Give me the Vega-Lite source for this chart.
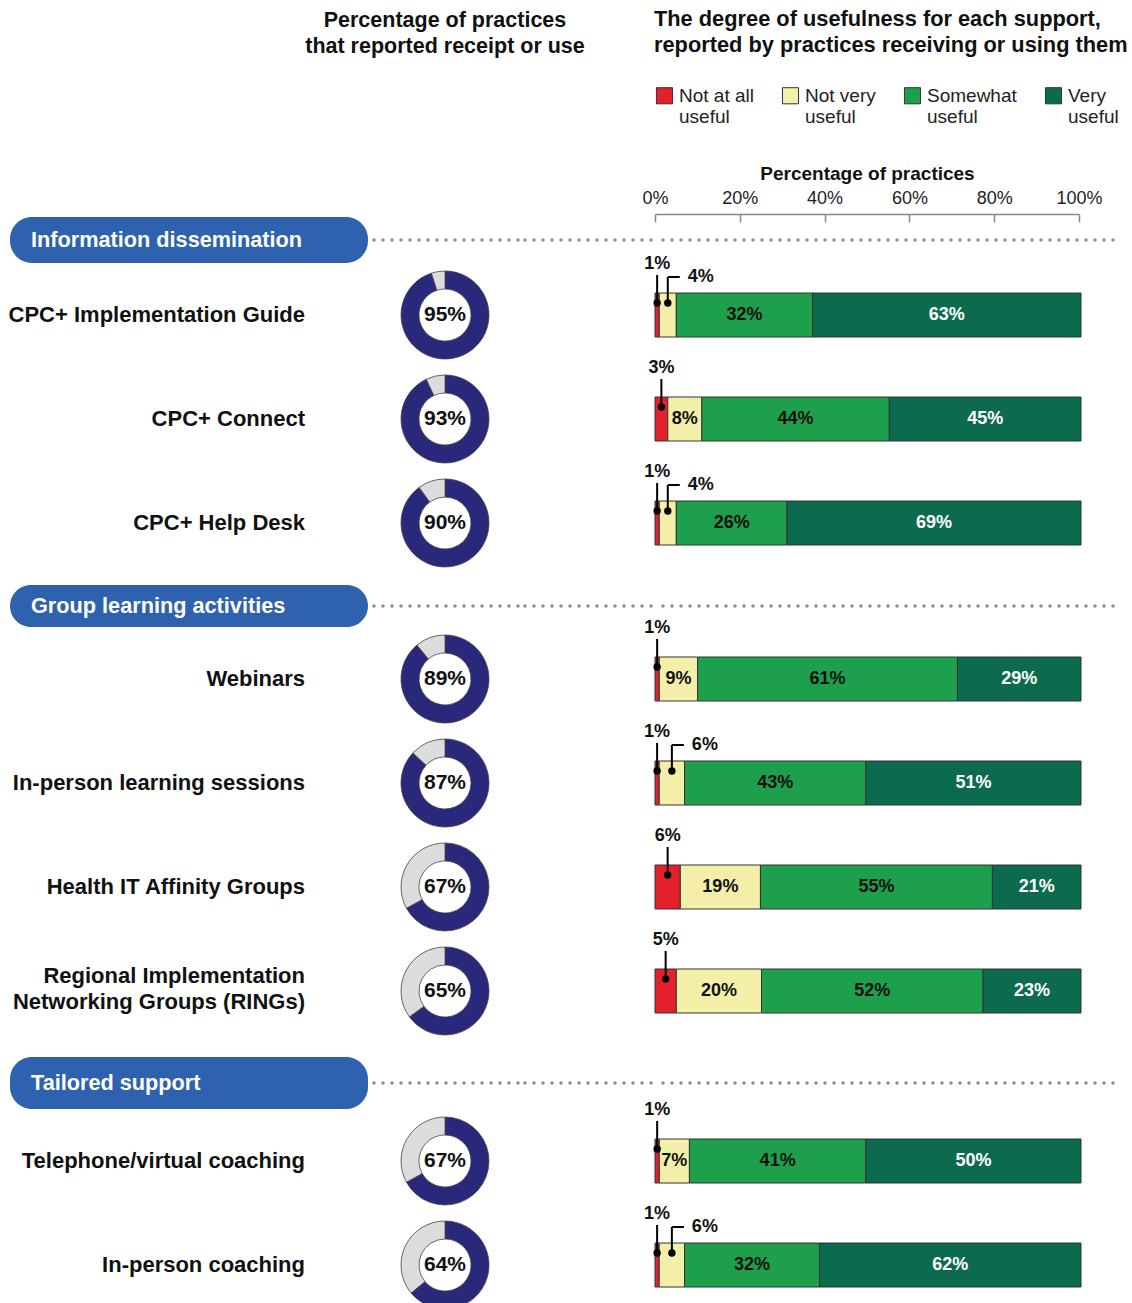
{
  "$schema": "https://vega.github.io/schema/vega-lite/v6.json",
  "background": "white",
  "padding": {"left": 8, "top": 9, "right": 10, "bottom": 0},
  "bounds": "flush",
  "align": "each",
  "spacing": 0,
  "columns": 4,
  "config": {
    "font": "Liberation Sans",
    "view": {"stroke": null},
    "title": {"fontSize": 21.5, "fontWeight": "bold", "color": "#111111", "lineHeight": 26}
  },
  "resolve": {"scale": {"color": "independent"}, "legend": {"color": "independent"}},
  "datasets": {
    "blank": [{"note": ""}],
    "sections": [
      {"section": "Information dissemination"},
      {"section": "Group learning activities"},
      {"section": "Tailored support"}
    ],
    "receipt": [
      {"section": "Information dissemination", "item": "CPC+ Implementation Guide", "part": "Yes", "from": 0, "to": 95},
      {"section": "Information dissemination", "item": "CPC+ Implementation Guide", "part": "No", "from": 95, "to": 100},
      {"section": "Information dissemination", "item": "CPC+ Connect", "part": "Yes", "from": 0, "to": 93},
      {"section": "Information dissemination", "item": "CPC+ Connect", "part": "No", "from": 93, "to": 100},
      {"section": "Information dissemination", "item": "CPC+ Help Desk", "part": "Yes", "from": 0, "to": 90},
      {"section": "Information dissemination", "item": "CPC+ Help Desk", "part": "No", "from": 90, "to": 100},
      {"section": "Group learning activities", "item": "Webinars", "part": "Yes", "from": 0, "to": 89},
      {"section": "Group learning activities", "item": "Webinars", "part": "No", "from": 89, "to": 100},
      {"section": "Group learning activities", "item": "In-person learning sessions", "part": "Yes", "from": 0, "to": 87},
      {"section": "Group learning activities", "item": "In-person learning sessions", "part": "No", "from": 87, "to": 100},
      {"section": "Group learning activities", "item": "Health IT Affinity Groups", "part": "Yes", "from": 0, "to": 67},
      {"section": "Group learning activities", "item": "Health IT Affinity Groups", "part": "No", "from": 67, "to": 100},
      {"section": "Group learning activities", "item": "Regional Implementation\nNetworking Groups (RINGs)", "part": "Yes", "from": 0, "to": 65},
      {"section": "Group learning activities", "item": "Regional Implementation\nNetworking Groups (RINGs)", "part": "No", "from": 65, "to": 100},
      {"section": "Tailored support", "item": "Telephone/virtual coaching", "part": "Yes", "from": 0, "to": 67},
      {"section": "Tailored support", "item": "Telephone/virtual coaching", "part": "No", "from": 67, "to": 100},
      {"section": "Tailored support", "item": "In-person coaching", "part": "Yes", "from": 0, "to": 64},
      {"section": "Tailored support", "item": "In-person coaching", "part": "No", "from": 64, "to": 100}
    ],
    "useful": [
      {"section": "Information dissemination", "item": "CPC+ Implementation Guide", "level": "Not at all useful", "value": 1},
      {"section": "Information dissemination", "item": "CPC+ Implementation Guide", "level": "Not very useful", "value": 4},
      {"section": "Information dissemination", "item": "CPC+ Implementation Guide", "level": "Somewhat useful", "value": 32},
      {"section": "Information dissemination", "item": "CPC+ Implementation Guide", "level": "Very useful", "value": 63},
      {"section": "Information dissemination", "item": "CPC+ Connect", "level": "Not at all useful", "value": 3},
      {"section": "Information dissemination", "item": "CPC+ Connect", "level": "Not very useful", "value": 8},
      {"section": "Information dissemination", "item": "CPC+ Connect", "level": "Somewhat useful", "value": 44},
      {"section": "Information dissemination", "item": "CPC+ Connect", "level": "Very useful", "value": 45},
      {"section": "Information dissemination", "item": "CPC+ Help Desk", "level": "Not at all useful", "value": 1},
      {"section": "Information dissemination", "item": "CPC+ Help Desk", "level": "Not very useful", "value": 4},
      {"section": "Information dissemination", "item": "CPC+ Help Desk", "level": "Somewhat useful", "value": 26},
      {"section": "Information dissemination", "item": "CPC+ Help Desk", "level": "Very useful", "value": 69},
      {"section": "Group learning activities", "item": "Webinars", "level": "Not at all useful", "value": 1},
      {"section": "Group learning activities", "item": "Webinars", "level": "Not very useful", "value": 9},
      {"section": "Group learning activities", "item": "Webinars", "level": "Somewhat useful", "value": 61},
      {"section": "Group learning activities", "item": "Webinars", "level": "Very useful", "value": 29},
      {"section": "Group learning activities", "item": "In-person learning sessions", "level": "Not at all useful", "value": 1},
      {"section": "Group learning activities", "item": "In-person learning sessions", "level": "Not very useful", "value": 6},
      {"section": "Group learning activities", "item": "In-person learning sessions", "level": "Somewhat useful", "value": 43},
      {"section": "Group learning activities", "item": "In-person learning sessions", "level": "Very useful", "value": 51},
      {"section": "Group learning activities", "item": "Health IT Affinity Groups", "level": "Not at all useful", "value": 6},
      {"section": "Group learning activities", "item": "Health IT Affinity Groups", "level": "Not very useful", "value": 19},
      {"section": "Group learning activities", "item": "Health IT Affinity Groups", "level": "Somewhat useful", "value": 55},
      {"section": "Group learning activities", "item": "Health IT Affinity Groups", "level": "Very useful", "value": 21},
      {"section": "Group learning activities", "item": "Regional Implementation\nNetworking Groups (RINGs)", "level": "Not at all useful", "value": 5},
      {"section": "Group learning activities", "item": "Regional Implementation\nNetworking Groups (RINGs)", "level": "Not very useful", "value": 20},
      {"section": "Group learning activities", "item": "Regional Implementation\nNetworking Groups (RINGs)", "level": "Somewhat useful", "value": 52},
      {"section": "Group learning activities", "item": "Regional Implementation\nNetworking Groups (RINGs)", "level": "Very useful", "value": 23},
      {"section": "Tailored support", "item": "Telephone/virtual coaching", "level": "Not at all useful", "value": 1},
      {"section": "Tailored support", "item": "Telephone/virtual coaching", "level": "Not very useful", "value": 7},
      {"section": "Tailored support", "item": "Telephone/virtual coaching", "level": "Somewhat useful", "value": 41},
      {"section": "Tailored support", "item": "Telephone/virtual coaching", "level": "Very useful", "value": 50},
      {"section": "Tailored support", "item": "In-person coaching", "level": "Not at all useful", "value": 1},
      {"section": "Tailored support", "item": "In-person coaching", "level": "Not very useful", "value": 6},
      {"section": "Tailored support", "item": "In-person coaching", "level": "Somewhat useful", "value": 32},
      {"section": "Tailored support", "item": "In-person coaching", "level": "Very useful", "value": 62}
    ]
  },
  "concat": [
    {"width": 358, "height": 3, "data": {"name": "blank"}, "mark": "text", "encoding": {"text": {"field": "note"}}},
    {"width": 154, "height": 3,
     "title": {"text": ["Percentage of practices", "that reported receipt or use"], "anchor": "middle", "offset": 152},
     "data": {"name": "blank"}, "mark": "text", "encoding": {"text": {"field": "note"}}},
    {"width": 133, "height": 3, "data": {"name": "blank"}, "mark": "text", "encoding": {"text": {"field": "note"}}},
    {"width": 424, "height": 3,
     "title": {"text": ["The degree of usefulness for each support,", "reported by practices receiving or using them"], "anchor": "start", "offset": 29, "dx": 12, "fontSize": 21.8},
     "data": {"name": "useful"},
     "transform": [{"filter": "false"}],
     "mark": "bar",
     "encoding": {
       "x": {"field": "value", "type": "quantitative", "scale": {"domain": [0, 1], "nice": false},
             "axis": {"orient": "top", "values": [0, 0.2, 0.4, 0.6, 0.8, 1], "format": ".0%", "title": "Percentage of practices",
                      "titleFontSize": 19, "titleFontWeight": "bold", "titleColor": "#111111", "titlePadding": 6,
                      "labelFontSize": 18, "labelColor": "#222222", "labelPadding": 15, "labelFlush": false, "labelOverlap": false,
                      "tickSize": -8, "tickColor": "#888888", "tickWidth": 1.5, "domainColor": "#888888", "domainWidth": 1.5, "grid": false}},
       "color": {"field": "level", "type": "nominal",
                 "scale": {"domain": ["Not at all useful", "Not very useful", "Somewhat useful", "Very useful"], "range": ["#e3202c", "#f3efa9", "#1e9f4c", "#0c6b4f"]},
                 "legend": {"orient": "top", "direction": "horizontal", "title": null, "symbolType": "square", "symbolSize": 260,
                            "symbolStrokeColor": "#333333", "symbolStrokeWidth": 1, "symbolOpacity": 1, "labelFontSize": 19, "labelColor": "#222222",
                            "labelExpr": "[replace(datum.label, ' useful', ''), 'useful']", "labelOffset": 5, "columnPadding": 26,
                            "offset": 37, "labelLimit": 300}}
     }},

    {"width": 358, "height": 46, "data": {"name": "sections"}, "transform": [{"filter": "datum.section == 'Information dissemination'"}],
     "encoding": {"y": {"field": "section", "type": "nominal", "axis": null, "scale": {"type": "band", "paddingInner": 0, "paddingOuter": 0}}},
     "layer": [
       {"mark": {"type": "bar", "size": 44, "cornerRadius": 22, "color": "#2e62ae"}},
       {"mark": {"type": "text", "align": "left", "dx": 21, "color": "white", "fontSize": 21.7, "fontWeight": "bold"}, "encoding": {"x": {"value": 0}, "text": {"field": "section"}}}
     ]},
    {"width": 154, "height": 46, "data": {"name": "sections"}, "transform": [{"filter": "datum.section == 'Information dissemination'"}],
     "mark": {"type": "rule", "strokeDash": [0, 9], "strokeDashOffset": -4, "strokeCap": "round", "strokeWidth": 3.5, "color": "#8c8c8c"},
     "encoding": {"y": {"field": "section", "type": "nominal", "axis": null, "scale": {"type": "band", "paddingInner": 0, "paddingOuter": 0}}}},
    {"width": 133, "height": 46, "data": {"name": "sections"}, "transform": [{"filter": "datum.section == 'Information dissemination'"}],
     "mark": {"type": "rule", "strokeDash": [0, 9], "strokeDashOffset": -4, "strokeCap": "round", "strokeWidth": 3.5, "color": "#8c8c8c"},
     "encoding": {"y": {"field": "section", "type": "nominal", "axis": null, "scale": {"type": "band", "paddingInner": 0, "paddingOuter": 0}}}},
    {"width": 462, "height": 46, "data": {"name": "sections"}, "transform": [{"filter": "datum.section == 'Information dissemination'"}],
     "mark": {"type": "rule", "strokeDash": [0, 9], "strokeDashOffset": -4, "strokeCap": "round", "strokeWidth": 3.5, "color": "#8c8c8c"},
     "encoding": {"y": {"field": "section", "type": "nominal", "axis": null, "scale": {"type": "band", "paddingInner": 0, "paddingOuter": 0}}}},

    {"width": 358, "height": 312, "data": {"name": "receipt"},
     "transform": [{"filter": "datum.section == 'Information dissemination' && datum.part == 'Yes'"}],
     "encoding": {"y": {"field": "item", "type": "nominal", "sort": null, "axis": null, "scale": {"type": "band", "paddingInner": 0, "paddingOuter": 0}},
                  "x": {"value": "width"}, "text": {"field": "item"}},
     "layer": [
       {"transform": [{"filter": "indexof(datum.item, '\\n') < 0"}],
        "mark": {"type": "text", "align": "right", "dx": -63, "baseline": "middle", "fontSize": 22, "fontWeight": "bold", "color": "#111111"}},
       {"transform": [{"filter": "indexof(datum.item, '\\n') >= 0"}],
        "mark": {"type": "text", "align": "right", "dx": -63, "dy": -1, "baseline": "line-bottom", "fontSize": 22, "fontWeight": "bold", "lineBreak": "\n", "lineHeight": 26, "color": "#111111"}}
     ]},
    {"width": 154, "height": 312, "data": {"name": "receipt"},
     "transform": [{"filter": "datum.section == 'Information dissemination'"}],
     "encoding": {"y": {"field": "item", "type": "nominal", "sort": null, "axis": null, "scale": {"type": "band", "paddingInner": 0, "paddingOuter": 0}}},
     "layer": [
       {"mark": {"type": "arc", "innerRadius": 26, "outerRadius": 44, "stroke": "#444444", "strokeWidth": 0.8},
        "encoding": {"theta": {"field": "from", "type": "quantitative", "stack": null, "scale": {"domain": [0, 100], "range": [0, 6.283185307179586]}},
                     "theta2": {"field": "to"},
                     "color": {"condition": {"test": "datum.part == 'Yes'", "value": "#29287b"}, "value": "#dcdcdc"}}},
       {"transform": [{"filter": "datum.part == 'Yes'"}, {"calculate": "datum.to + '%'", "as": "lbl"}],
        "mark": {"type": "text", "fontSize": 21, "fontWeight": "bold", "color": "#111111"},
        "encoding": {"text": {"field": "lbl"}}}
     ]},
    {"width": 133, "height": 312, "data": {"name": "blank"}, "mark": "text", "encoding": {"text": {"field": "note"}}},
    {"width": 426, "height": 312, "data": {"name": "useful"},
     "transform": [
       {"filter": "datum.section == 'Information dissemination'"},
       {"stack": "value", "groupby": ["item"], "sort": [{"field": "level", "order": "ascending"}], "as": ["v0", "v1"], "offset": "normalize"},
       {"calculate": "(datum.v0 + datum.v1) / 2", "as": "mid"},
       {"calculate": "datum.value + '%'", "as": "lbl"}
     ],
     "encoding": {"y": {"field": "item", "type": "nominal", "sort": null, "axis": null, "scale": {"type": "band", "paddingInner": 0, "paddingOuter": 0}}},
     "layer": [
       {"mark": {"type": "bar", "size": 44, "stroke": "#333333", "strokeWidth": 1},
        "encoding": {"x": {"field": "v0", "type": "quantitative", "scale": {"domain": [0, 1], "nice": false}, "axis": null}, "x2": {"field": "v1"},
                     "color": {"field": "level", "type": "nominal", "legend": null,
                               "scale": {"domain": ["Not at all useful", "Not very useful", "Somewhat useful", "Very useful"], "range": ["#e3202c", "#f3efa9", "#1e9f4c", "#0c6b4f"]}}}},
       {"transform": [{"filter": "datum.value >= 7"}],
        "mark": {"type": "text", "fontSize": 18, "fontWeight": "bold"},
        "encoding": {"x": {"field": "mid", "type": "quantitative", "scale": {"domain": [0, 1], "nice": false}, "axis": null}, "text": {"field": "lbl"},
                     "color": {"condition": {"test": "datum.level == 'Very useful'", "value": "white"}, "value": "#111111"}}},
       {"transform": [{"filter": "datum.value < 7 && datum.level == 'Not at all useful'"}],
        "mark": {"type": "rule", "color": "black", "strokeWidth": 2, "yOffset": -40, "y2Offset": -12},
        "encoding": {"x": {"field": "mid", "type": "quantitative", "scale": {"domain": [0, 1], "nice": false}, "axis": null}, "y2": {"field": "item"}}},
       {"transform": [{"filter": "datum.value < 7 && datum.level == 'Not at all useful'"}],
        "mark": {"type": "text", "fontSize": 18, "fontWeight": "bold", "dy": -51, "color": "#111111"},
        "encoding": {"x": {"field": "mid", "type": "quantitative", "scale": {"domain": [0, 1], "nice": false}, "axis": null}, "text": {"field": "lbl"}}},
       {"transform": [{"filter": "datum.value < 7 && datum.level == 'Not very useful'"}],
        "mark": {"type": "rule", "color": "black", "strokeWidth": 2, "yOffset": -38, "y2Offset": -12},
        "encoding": {"x": {"field": "mid", "type": "quantitative", "scale": {"domain": [0, 1], "nice": false}, "axis": null}, "y2": {"field": "item"}}},
       {"transform": [{"filter": "datum.value < 7 && datum.level == 'Not very useful'"}],
        "mark": {"type": "rule", "color": "black", "strokeWidth": 2, "yOffset": -38, "x2Offset": 12},
        "encoding": {"x": {"field": "mid", "type": "quantitative", "scale": {"domain": [0, 1], "nice": false}, "axis": null}, "x2": {"field": "mid"}}},
       {"transform": [{"filter": "datum.value < 7 && datum.level == 'Not very useful'"}],
        "mark": {"type": "text", "fontSize": 18, "fontWeight": "bold", "align": "left", "dx": 20, "dy": -38, "color": "#111111"},
        "encoding": {"x": {"field": "mid", "type": "quantitative", "scale": {"domain": [0, 1], "nice": false}, "axis": null}, "text": {"field": "lbl"}}},
       {"transform": [{"filter": "datum.value < 7"}],
        "mark": {"type": "point", "filled": true, "size": 55, "color": "black", "opacity": 1, "yOffset": -12},
        "encoding": {"x": {"field": "mid", "type": "quantitative", "scale": {"domain": [0, 1], "nice": false}, "axis": null}}}
     ]},

    {"width": 358, "height": 52, "data": {"name": "sections"}, "transform": [{"filter": "datum.section == 'Group learning activities'"}],
     "encoding": {"y": {"field": "section", "type": "nominal", "axis": null, "scale": {"type": "band", "paddingInner": 0, "paddingOuter": 0.119, "align": 1}}},
     "layer": [
       {"mark": {"type": "bar", "size": 44, "cornerRadius": 22, "color": "#2e62ae"}},
       {"mark": {"type": "text", "align": "left", "dx": 21, "color": "white", "fontSize": 21.7, "fontWeight": "bold"}, "encoding": {"x": {"value": 0}, "text": {"field": "section"}}}
     ]},
    {"width": 154, "height": 52, "data": {"name": "sections"}, "transform": [{"filter": "datum.section == 'Group learning activities'"}],
     "mark": {"type": "rule", "strokeDash": [0, 9], "strokeDashOffset": -4, "strokeCap": "round", "strokeWidth": 3.5, "color": "#8c8c8c"},
     "encoding": {"y": {"field": "section", "type": "nominal", "axis": null, "scale": {"type": "band", "paddingInner": 0, "paddingOuter": 0.119, "align": 1}}}},
    {"width": 133, "height": 52, "data": {"name": "sections"}, "transform": [{"filter": "datum.section == 'Group learning activities'"}],
     "mark": {"type": "rule", "strokeDash": [0, 9], "strokeDashOffset": -4, "strokeCap": "round", "strokeWidth": 3.5, "color": "#8c8c8c"},
     "encoding": {"y": {"field": "section", "type": "nominal", "axis": null, "scale": {"type": "band", "paddingInner": 0, "paddingOuter": 0.119, "align": 1}}}},
    {"width": 462, "height": 52, "data": {"name": "sections"}, "transform": [{"filter": "datum.section == 'Group learning activities'"}],
     "mark": {"type": "rule", "strokeDash": [0, 9], "strokeDashOffset": -4, "strokeCap": "round", "strokeWidth": 3.5, "color": "#8c8c8c"},
     "encoding": {"y": {"field": "section", "type": "nominal", "axis": null, "scale": {"type": "band", "paddingInner": 0, "paddingOuter": 0.119, "align": 1}}}},

    {"width": 358, "height": 416, "data": {"name": "receipt"},
     "transform": [{"filter": "datum.section == 'Group learning activities' && datum.part == 'Yes'"}],
     "encoding": {"y": {"field": "item", "type": "nominal", "sort": null, "axis": null, "scale": {"type": "band", "paddingInner": 0, "paddingOuter": 0}},
                  "x": {"value": "width"}, "text": {"field": "item"}},
     "layer": [
       {"transform": [{"filter": "indexof(datum.item, '\\n') < 0"}],
        "mark": {"type": "text", "align": "right", "dx": -63, "baseline": "middle", "fontSize": 22, "fontWeight": "bold", "color": "#111111"}},
       {"transform": [{"filter": "indexof(datum.item, '\\n') >= 0"}],
        "mark": {"type": "text", "align": "right", "dx": -63, "dy": -1, "baseline": "line-bottom", "fontSize": 22, "fontWeight": "bold", "lineBreak": "\n", "lineHeight": 26, "color": "#111111"}}
     ]},
    {"width": 154, "height": 416, "data": {"name": "receipt"},
     "transform": [{"filter": "datum.section == 'Group learning activities'"}],
     "encoding": {"y": {"field": "item", "type": "nominal", "sort": null, "axis": null, "scale": {"type": "band", "paddingInner": 0, "paddingOuter": 0}}},
     "layer": [
       {"mark": {"type": "arc", "innerRadius": 26, "outerRadius": 44, "stroke": "#444444", "strokeWidth": 0.8},
        "encoding": {"theta": {"field": "from", "type": "quantitative", "stack": null, "scale": {"domain": [0, 100], "range": [0, 6.283185307179586]}},
                     "theta2": {"field": "to"},
                     "color": {"condition": {"test": "datum.part == 'Yes'", "value": "#29287b"}, "value": "#dcdcdc"}}},
       {"transform": [{"filter": "datum.part == 'Yes'"}, {"calculate": "datum.to + '%'", "as": "lbl"}],
        "mark": {"type": "text", "fontSize": 21, "fontWeight": "bold", "color": "#111111"},
        "encoding": {"text": {"field": "lbl"}}}
     ]},
    {"width": 133, "height": 416, "data": {"name": "blank"}, "mark": "text", "encoding": {"text": {"field": "note"}}},
    {"width": 426, "height": 416, "data": {"name": "useful"},
     "transform": [
       {"filter": "datum.section == 'Group learning activities'"},
       {"stack": "value", "groupby": ["item"], "sort": [{"field": "level", "order": "ascending"}], "as": ["v0", "v1"], "offset": "normalize"},
       {"calculate": "(datum.v0 + datum.v1) / 2", "as": "mid"},
       {"calculate": "datum.value + '%'", "as": "lbl"}
     ],
     "encoding": {"y": {"field": "item", "type": "nominal", "sort": null, "axis": null, "scale": {"type": "band", "paddingInner": 0, "paddingOuter": 0}}},
     "layer": [
       {"mark": {"type": "bar", "size": 44, "stroke": "#333333", "strokeWidth": 1},
        "encoding": {"x": {"field": "v0", "type": "quantitative", "scale": {"domain": [0, 1], "nice": false}, "axis": null}, "x2": {"field": "v1"},
                     "color": {"field": "level", "type": "nominal", "legend": null,
                               "scale": {"domain": ["Not at all useful", "Not very useful", "Somewhat useful", "Very useful"], "range": ["#e3202c", "#f3efa9", "#1e9f4c", "#0c6b4f"]}}}},
       {"transform": [{"filter": "datum.value >= 7"}],
        "mark": {"type": "text", "fontSize": 18, "fontWeight": "bold"},
        "encoding": {"x": {"field": "mid", "type": "quantitative", "scale": {"domain": [0, 1], "nice": false}, "axis": null}, "text": {"field": "lbl"},
                     "color": {"condition": {"test": "datum.level == 'Very useful'", "value": "white"}, "value": "#111111"}}},
       {"transform": [{"filter": "datum.value < 7 && datum.level == 'Not at all useful'"}],
        "mark": {"type": "rule", "color": "black", "strokeWidth": 2, "yOffset": -40, "y2Offset": -12},
        "encoding": {"x": {"field": "mid", "type": "quantitative", "scale": {"domain": [0, 1], "nice": false}, "axis": null}, "y2": {"field": "item"}}},
       {"transform": [{"filter": "datum.value < 7 && datum.level == 'Not at all useful'"}],
        "mark": {"type": "text", "fontSize": 18, "fontWeight": "bold", "dy": -51, "color": "#111111"},
        "encoding": {"x": {"field": "mid", "type": "quantitative", "scale": {"domain": [0, 1], "nice": false}, "axis": null}, "text": {"field": "lbl"}}},
       {"transform": [{"filter": "datum.value < 7 && datum.level == 'Not very useful'"}],
        "mark": {"type": "rule", "color": "black", "strokeWidth": 2, "yOffset": -38, "y2Offset": -12},
        "encoding": {"x": {"field": "mid", "type": "quantitative", "scale": {"domain": [0, 1], "nice": false}, "axis": null}, "y2": {"field": "item"}}},
       {"transform": [{"filter": "datum.value < 7 && datum.level == 'Not very useful'"}],
        "mark": {"type": "rule", "color": "black", "strokeWidth": 2, "yOffset": -38, "x2Offset": 12},
        "encoding": {"x": {"field": "mid", "type": "quantitative", "scale": {"domain": [0, 1], "nice": false}, "axis": null}, "x2": {"field": "mid"}}},
       {"transform": [{"filter": "datum.value < 7 && datum.level == 'Not very useful'"}],
        "mark": {"type": "text", "fontSize": 18, "fontWeight": "bold", "align": "left", "dx": 20, "dy": -38, "color": "#111111"},
        "encoding": {"x": {"field": "mid", "type": "quantitative", "scale": {"domain": [0, 1], "nice": false}, "axis": null}, "text": {"field": "lbl"}}},
       {"transform": [{"filter": "datum.value < 7"}],
        "mark": {"type": "point", "filled": true, "size": 55, "color": "black", "opacity": 1, "yOffset": -12},
        "encoding": {"x": {"field": "mid", "type": "quantitative", "scale": {"domain": [0, 1], "nice": false}, "axis": null}}}
     ]},

    {"width": 358, "height": 66, "data": {"name": "sections"}, "transform": [{"filter": "datum.section == 'Tailored support'"}],
     "encoding": {"y": {"field": "section", "type": "nominal", "axis": null, "scale": {"type": "band", "paddingInner": 0, "paddingOuter": 0.1346, "align": 1}}},
     "layer": [
       {"mark": {"type": "bar", "size": 44, "cornerRadius": 22, "color": "#2e62ae"}},
       {"mark": {"type": "text", "align": "left", "dx": 21, "color": "white", "fontSize": 21.7, "fontWeight": "bold"}, "encoding": {"x": {"value": 0}, "text": {"field": "section"}}}
     ]},
    {"width": 154, "height": 66, "data": {"name": "sections"}, "transform": [{"filter": "datum.section == 'Tailored support'"}],
     "mark": {"type": "rule", "strokeDash": [0, 9], "strokeDashOffset": -4, "strokeCap": "round", "strokeWidth": 3.5, "color": "#8c8c8c"},
     "encoding": {"y": {"field": "section", "type": "nominal", "axis": null, "scale": {"type": "band", "paddingInner": 0, "paddingOuter": 0.1346, "align": 1}}}},
    {"width": 133, "height": 66, "data": {"name": "sections"}, "transform": [{"filter": "datum.section == 'Tailored support'"}],
     "mark": {"type": "rule", "strokeDash": [0, 9], "strokeDashOffset": -4, "strokeCap": "round", "strokeWidth": 3.5, "color": "#8c8c8c"},
     "encoding": {"y": {"field": "section", "type": "nominal", "axis": null, "scale": {"type": "band", "paddingInner": 0, "paddingOuter": 0.1346, "align": 1}}}},
    {"width": 462, "height": 66, "data": {"name": "sections"}, "transform": [{"filter": "datum.section == 'Tailored support'"}],
     "mark": {"type": "rule", "strokeDash": [0, 9], "strokeDashOffset": -4, "strokeCap": "round", "strokeWidth": 3.5, "color": "#8c8c8c"},
     "encoding": {"y": {"field": "section", "type": "nominal", "axis": null, "scale": {"type": "band", "paddingInner": 0, "paddingOuter": 0.1346, "align": 1}}}},

    {"width": 358, "height": 208, "data": {"name": "receipt"},
     "transform": [{"filter": "datum.section == 'Tailored support' && datum.part == 'Yes'"}],
     "encoding": {"y": {"field": "item", "type": "nominal", "sort": null, "axis": null, "scale": {"type": "band", "paddingInner": 0, "paddingOuter": 0}},
                  "x": {"value": "width"}, "text": {"field": "item"}},
     "layer": [
       {"transform": [{"filter": "indexof(datum.item, '\\n') < 0"}],
        "mark": {"type": "text", "align": "right", "dx": -63, "baseline": "middle", "fontSize": 22, "fontWeight": "bold", "color": "#111111"}},
       {"transform": [{"filter": "indexof(datum.item, '\\n') >= 0"}],
        "mark": {"type": "text", "align": "right", "dx": -63, "dy": -1, "baseline": "line-bottom", "fontSize": 22, "fontWeight": "bold", "lineBreak": "\n", "lineHeight": 26, "color": "#111111"}}
     ]},
    {"width": 154, "height": 208, "data": {"name": "receipt"},
     "transform": [{"filter": "datum.section == 'Tailored support'"}],
     "encoding": {"y": {"field": "item", "type": "nominal", "sort": null, "axis": null, "scale": {"type": "band", "paddingInner": 0, "paddingOuter": 0}}},
     "layer": [
       {"mark": {"type": "arc", "innerRadius": 26, "outerRadius": 44, "stroke": "#444444", "strokeWidth": 0.8},
        "encoding": {"theta": {"field": "from", "type": "quantitative", "stack": null, "scale": {"domain": [0, 100], "range": [0, 6.283185307179586]}},
                     "theta2": {"field": "to"},
                     "color": {"condition": {"test": "datum.part == 'Yes'", "value": "#29287b"}, "value": "#dcdcdc"}}},
       {"transform": [{"filter": "datum.part == 'Yes'"}, {"calculate": "datum.to + '%'", "as": "lbl"}],
        "mark": {"type": "text", "fontSize": 21, "fontWeight": "bold", "color": "#111111"},
        "encoding": {"text": {"field": "lbl"}}}
     ]},
    {"width": 133, "height": 208, "data": {"name": "blank"}, "mark": "text", "encoding": {"text": {"field": "note"}}},
    {"width": 426, "height": 208, "data": {"name": "useful"},
     "transform": [
       {"filter": "datum.section == 'Tailored support'"},
       {"stack": "value", "groupby": ["item"], "sort": [{"field": "level", "order": "ascending"}], "as": ["v0", "v1"], "offset": "normalize"},
       {"calculate": "(datum.v0 + datum.v1) / 2", "as": "mid"},
       {"calculate": "datum.value + '%'", "as": "lbl"}
     ],
     "encoding": {"y": {"field": "item", "type": "nominal", "sort": null, "axis": null, "scale": {"type": "band", "paddingInner": 0, "paddingOuter": 0}}},
     "layer": [
       {"mark": {"type": "bar", "size": 44, "stroke": "#333333", "strokeWidth": 1},
        "encoding": {"x": {"field": "v0", "type": "quantitative", "scale": {"domain": [0, 1], "nice": false}, "axis": null}, "x2": {"field": "v1"},
                     "color": {"field": "level", "type": "nominal", "legend": null,
                               "scale": {"domain": ["Not at all useful", "Not very useful", "Somewhat useful", "Very useful"], "range": ["#e3202c", "#f3efa9", "#1e9f4c", "#0c6b4f"]}}}},
       {"transform": [{"filter": "datum.value >= 7"}],
        "mark": {"type": "text", "fontSize": 18, "fontWeight": "bold"},
        "encoding": {"x": {"field": "mid", "type": "quantitative", "scale": {"domain": [0, 1], "nice": false}, "axis": null}, "text": {"field": "lbl"},
                     "color": {"condition": {"test": "datum.level == 'Very useful'", "value": "white"}, "value": "#111111"}}},
       {"transform": [{"filter": "datum.value < 7 && datum.level == 'Not at all useful'"}],
        "mark": {"type": "rule", "color": "black", "strokeWidth": 2, "yOffset": -40, "y2Offset": -12},
        "encoding": {"x": {"field": "mid", "type": "quantitative", "scale": {"domain": [0, 1], "nice": false}, "axis": null}, "y2": {"field": "item"}}},
       {"transform": [{"filter": "datum.value < 7 && datum.level == 'Not at all useful'"}],
        "mark": {"type": "text", "fontSize": 18, "fontWeight": "bold", "dy": -51, "color": "#111111"},
        "encoding": {"x": {"field": "mid", "type": "quantitative", "scale": {"domain": [0, 1], "nice": false}, "axis": null}, "text": {"field": "lbl"}}},
       {"transform": [{"filter": "datum.value < 7 && datum.level == 'Not very useful'"}],
        "mark": {"type": "rule", "color": "black", "strokeWidth": 2, "yOffset": -38, "y2Offset": -12},
        "encoding": {"x": {"field": "mid", "type": "quantitative", "scale": {"domain": [0, 1], "nice": false}, "axis": null}, "y2": {"field": "item"}}},
       {"transform": [{"filter": "datum.value < 7 && datum.level == 'Not very useful'"}],
        "mark": {"type": "rule", "color": "black", "strokeWidth": 2, "yOffset": -38, "x2Offset": 12},
        "encoding": {"x": {"field": "mid", "type": "quantitative", "scale": {"domain": [0, 1], "nice": false}, "axis": null}, "x2": {"field": "mid"}}},
       {"transform": [{"filter": "datum.value < 7 && datum.level == 'Not very useful'"}],
        "mark": {"type": "text", "fontSize": 18, "fontWeight": "bold", "align": "left", "dx": 20, "dy": -38, "color": "#111111"},
        "encoding": {"x": {"field": "mid", "type": "quantitative", "scale": {"domain": [0, 1], "nice": false}, "axis": null}, "text": {"field": "lbl"}}},
       {"transform": [{"filter": "datum.value < 7"}],
        "mark": {"type": "point", "filled": true, "size": 55, "color": "black", "opacity": 1, "yOffset": -12},
        "encoding": {"x": {"field": "mid", "type": "quantitative", "scale": {"domain": [0, 1], "nice": false}, "axis": null}}}
     ]}
  ]
}
